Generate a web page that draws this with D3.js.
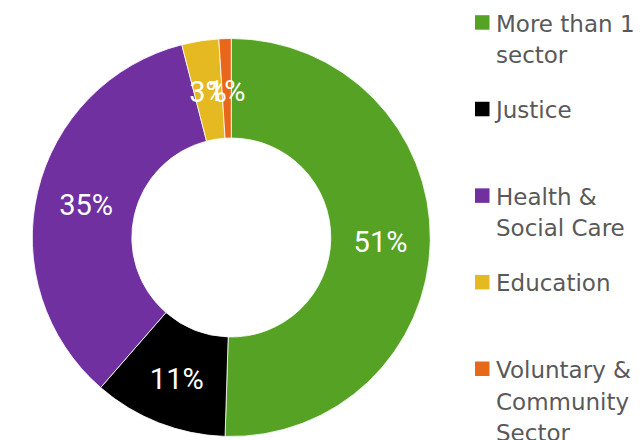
<!DOCTYPE html>
<html>
<head>
<meta charset="utf-8">
<script src="https://cdn.jsdelivr.net/npm/d3@7"></script>
<style>
  body { margin: 0; background: #fff; }
</style>
</head>
<body>
<svg id="chart" width="641" height="440"></svg>
<script>
// sectors, clockwise from 12 o'clock
const categories = ["More than 1 sector", "Justice", "Health & Social Care", "Education", "Voluntary & Community Sector"];
const values = [50.5, 10.9, 34.6, 3.0, 1.0];
const colors = ["#55a225", "#000000", "#7030a0", "#e5b921", "#e8681b"];
// legend wraps like the original
const legendLines = [["More than 1", "sector"], ["Justice"], ["Health &", "Social Care"], ["Education"], ["Voluntary &", "Community", "Sector"]];

const svg = d3.select("#chart");
const cx = 231.3, cy = 237.5;
const outerR = 199, innerR = 99.5;

const pie = d3.pie().sort(null).value(d => d);
const arc = d3.arc().innerRadius(innerR).outerRadius(outerR);
const total = d3.sum(values);

const g = svg.append("g").attr("transform", `translate(${cx},${cy})`);

const slices = g.selectAll("path")
  .data(pie(values))
  .enter()
  .append("path")
  .attr("d", arc)
  .attr("fill", (d, i) => colors[i])
  .attr("stroke", "#fff")
  .attr("stroke-width", 0.8);

// percent labels at the middle of each ring slice
g.selectAll("text")
  .data(pie(values))
  .enter()
  .append("text")
  .attr("transform", d => `translate(${arc.centroid(d)})`)
  .attr("dy", "0.42em")
  .attr("text-anchor", "middle")
  .attr("fill", "#fff")
  .attr("font-family", "Roboto, sans-serif")
  .attr("font-size", 29)
  .text(d => Math.round(d.value / total * 100) + "%");

// legend
const legendX = 475;
const baselines = d3.scaleLinear().domain([0, 4]).range([31.7, 378]);

const items = svg.selectAll("g.legend")
  .data(categories)
  .enter()
  .append("g")
  .attr("class", "legend")
  .attr("transform", (d, i) => `translate(${legendX},${baselines(i)})`);

items.append("rect")
  .attr("x", 0)
  .attr("y", -16.5)
  .attr("width", 14.5)
  .attr("height", 14.5)
  .attr("fill", (d, i) => colors[i]);

items.append("text")
  .attr("x", 21)
  .attr("fill", "#595959")
  .attr("font-family", "DejaVu Sans, sans-serif")
  .attr("font-size", 23)
  .selectAll("tspan")
  .data((d, i) => legendLines[i])
  .enter()
  .append("tspan")
  .attr("x", 21)
  .attr("y", (d, j) => j * 31.5)
  .text(d => d);
</script>
</body>
</html>
